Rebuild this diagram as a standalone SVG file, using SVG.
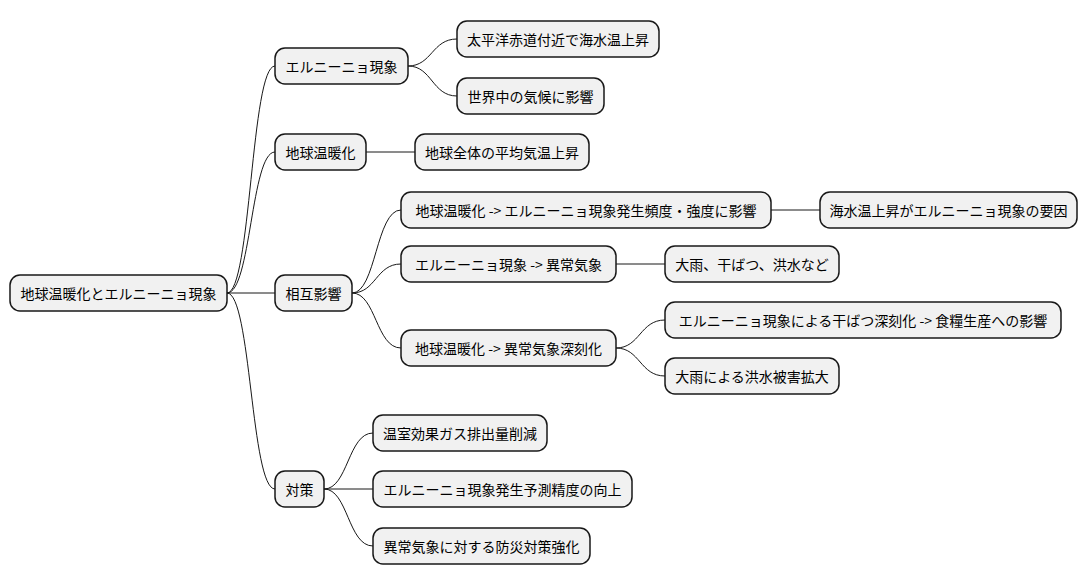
<svg xmlns="http://www.w3.org/2000/svg" width="1088" height="583" viewBox="0 0 1088 583">
<style>
.n rect{fill:#f1f1f1;stroke:#181818;stroke-width:1.5}
.n text{font-family:"Noto Sans CJK JP","Liberation Sans",sans-serif;font-size:14px;fill:#000;dominant-baseline:central;text-anchor:middle}
#c path{fill:none;stroke:#181818;stroke-width:1}
</style>
<rect width="1088" height="583" fill="#fff"/>
<g id="c">
<path d="M227,293 C251,293 251,66 275,66"/>
<path d="M227,293 C251,293 251,152 275,152"/>
<path d="M227,293 L275,293"/>
<path d="M227,293 C251,293 251,489 275,489"/>
<path d="M408,66 C432,66 432,39 457,39"/>
<path d="M408,66 C432,66 432,96 457,96"/>
<path d="M366,152 L415,152"/>
<path d="M352,293 C376,293 376,210 401,210"/>
<path d="M352,293 C376,293 376,264 401,264"/>
<path d="M352,293 C376,293 376,348 401,348"/>
<path d="M771,210 L820,210"/>
<path d="M616,264 L665,264"/>
<path d="M616,348 C640,348 640,320 665,320"/>
<path d="M616,348 C640,348 640,376 665,376"/>
<path d="M324,489 C348,489 348,433 373,433"/>
<path d="M324,489 L373,489"/>
<path d="M324,489 C348,489 348,546 373,546"/>
</g>
<g id="root" class="n"><rect x="10" y="275" width="217" height="36" rx="10"/><text x="118.5" y="293">地球温暖化とエルニーニョ現象</text></g>
<g id="n1" class="n"><rect x="275" y="48" width="133" height="36" rx="10"/><text x="341.5" y="66">エルニーニョ現象</text></g>
<g id="n1a" class="n"><rect x="457" y="21" width="202" height="36" rx="10"/><text x="558" y="39">太平洋赤道付近で海水温上昇</text></g>
<g id="n1b" class="n"><rect x="457" y="78" width="147" height="36" rx="10"/><text x="530.5" y="96">世界中の気候に影響</text></g>
<g id="n2" class="n"><rect x="275" y="134" width="91" height="36" rx="10"/><text x="320.5" y="152">地球温暖化</text></g>
<g id="n2a" class="n"><rect x="415" y="134" width="174" height="36" rx="10"/><text x="502" y="152">地球全体の平均気温上昇</text></g>
<g id="n3" class="n"><rect x="275" y="275" width="77" height="36" rx="10"/><text x="313.5" y="293">相互影響</text></g>
<g id="n3a" class="n"><rect x="401" y="192" width="370" height="36" rx="10"/><text x="586" y="210">地球温暖化 -&gt; エルニーニョ現象発生頻度・強度に影響</text></g>
<g id="n3a1" class="n"><rect x="820" y="192" width="257" height="36" rx="10"/><text x="948.5" y="210">海水温上昇がエルニーニョ現象の要因</text></g>
<g id="n3b" class="n"><rect x="401" y="246" width="215" height="36" rx="10"/><text x="508.5" y="264">エルニーニョ現象 -&gt; 異常気象</text></g>
<g id="n3b1" class="n"><rect x="665" y="246" width="174" height="36" rx="10"/><text x="752" y="264">大雨、干ばつ、洪水など</text></g>
<g id="n3c" class="n"><rect x="401" y="330" width="215" height="36" rx="10"/><text x="508.5" y="348">地球温暖化 -&gt; 異常気象深刻化</text></g>
<g id="n3c1" class="n"><rect x="665" y="302" width="396" height="36" rx="10"/><text x="863" y="320">エルニーニョ現象による干ばつ深刻化 -&gt; 食糧生産への影響</text></g>
<g id="n3c2" class="n"><rect x="665" y="358" width="174" height="36" rx="10"/><text x="752" y="376">大雨による洪水被害拡大</text></g>
<g id="n4" class="n"><rect x="275" y="471" width="49" height="36" rx="10"/><text x="299.5" y="489">対策</text></g>
<g id="n4a" class="n"><rect x="373" y="415" width="174" height="36" rx="10"/><text x="460" y="433">温室効果ガス排出量削減</text></g>
<g id="n4b" class="n"><rect x="373" y="471" width="259" height="36" rx="10"/><text x="502.5" y="489">エルニーニョ現象発生予測精度の向上</text></g>
<g id="n4c" class="n"><rect x="373" y="528" width="217" height="36" rx="10"/><text x="481.5" y="546">異常気象に対する防災対策強化</text></g>
</svg>
